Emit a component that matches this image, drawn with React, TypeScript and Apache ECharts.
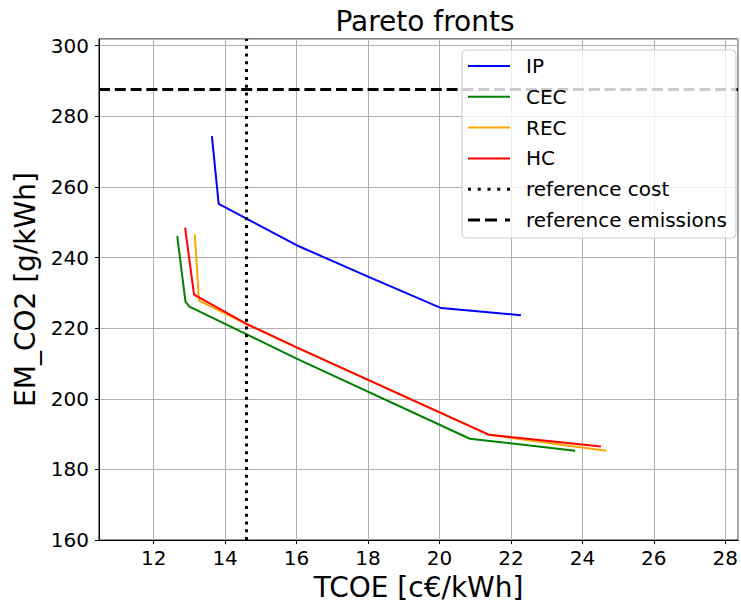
import React, { useEffect, useRef } from "react";
import * as echarts from "echarts";

// Pareto fronts: TCOE [c€/kWh] vs EM_CO2 [g/kWh]
const ipX = [13.63, 13.82, 16.0, 18.0, 20.05, 22.28];
const ipY = [274.4, 255.2, 243.5, 234.6, 225.7, 223.7];

const cecX = [12.66, 12.89, 13.0, 16.0, 20.85, 23.8];
const cecY = [246.1, 227.5, 226.1, 211.4, 188.7, 185.3];

const recX = [13.15, 13.27, 14.6, 16.0, 21.39, 24.67];
const recY = [246.6, 227.8, 221.2, 214.6, 189.8, 185.3];

const hcX = [12.88, 13.13, 14.6, 16.0, 21.39, 24.52];
const hcY = [248.5, 229.5, 221.2, 214.6, 189.8, 186.5];

const referenceCost = 14.6;
const referenceEmissions = 287.6;

const xMin = 10.47;
const xMax = 28.36;
const yMin = 160;
const yMax = 301.9;

const FONT = "DejaVu Sans";

const ICON_SOLID = "path://M0,0h42v2h-42z";
const ICON_DOTTED =
  "path://M0,0h3v3h-3z M9.75,0h3v3h-3z M19.5,0h3v3h-3z M29.25,0h3v3h-3z M39,0h3v3h-3z";
const ICON_DASHED = "path://M0,0h12v3h-12z M17,0h12v3h-12z M37,0h5v3h-5z";

function zip(xs: number[], ys: number[]) {
  return xs.map((x, i) => [x, ys[i]]);
}

export default function App() {
  const ref = useRef<HTMLDivElement>(null);
  useEffect(() => {
    if (!ref.current) return;
    const chart = echarts.init(ref.current, null, { renderer: "svg" });
    const lineSeries = (name: string, data: number[][], color: string) => ({
      name,
      type: "line",
      data,
      symbol: "none",
      lineStyle: { color, width: 2 },
      itemStyle: { color },
      z: 3,
    });
    chart.setOption({
      animation: false,
      backgroundColor: "#ffffff",
      textStyle: { fontFamily: FONT },
      title: {
        text: "Pareto fronts",
        left: 420,
        top: 2,
        textAlign: "center",
        textStyle: { fontFamily: FONT, fontSize: 28, fontWeight: "normal", color: "#000" },
      },
      grid: {
        left: 99,
        right: 1,
        top: 39,
        bottom: 64,
        show: true,
        borderColor: "#000",
        borderWidth: 1,
        backgroundColor: "transparent",
      },
      legend: {
        orient: "vertical",
        left: 462,
        top: 50,
        padding: [6, 9, 8, 6],
        itemGap: 10.8,
        itemWidth: 42,
        itemHeight: 14,
        backgroundColor: "rgba(255,255,255,0.8)",
        borderColor: "#cccccc",
        borderWidth: 1,
        borderRadius: 4,
        textStyle: { fontFamily: FONT, fontSize: 20, color: "#000", padding: [0, 0, 0, 11] },
        data: [
          { name: "IP", icon: ICON_SOLID },
          { name: "CEC", icon: ICON_SOLID },
          { name: "REC", icon: ICON_SOLID },
          { name: "HC", icon: ICON_SOLID },
          { name: "reference cost", icon: ICON_DOTTED },
          { name: "reference emissions", icon: ICON_DASHED },
        ],
      },
      xAxis: {
        type: "value",
        min: xMin,
        max: xMax,
        splitNumber: 9,
        name: "TCOE [c€/kWh]",
        nameLocation: "middle",
        nameGap: 32,
        nameTextStyle: { fontFamily: FONT, fontSize: 28, color: "#000" },
        axisLine: { show: true, onZero: false, lineStyle: { color: "#000", width: 1 } },
        axisTick: { show: true, length: 4, lineStyle: { color: "#000" } },
        axisLabel: {
          showMinLabel: false,
          showMaxLabel: false,
          margin: 8,
          fontFamily: FONT,
          fontSize: 20,
          color: "#000",
          formatter: (v: number) => (Math.abs(v / 2 - Math.round(v / 2)) < 1e-6 ? String(v) : ""),
        },
        splitLine: { show: true, lineStyle: { color: "#b0b0b0", width: 1 } },
      },
      yAxis: {
        type: "value",
        min: yMin,
        max: yMax,
        interval: 20,
        name: "EM_CO2 [g/kWh]",
        nameLocation: "middle",
        nameGap: 58,
        nameTextStyle: { fontFamily: FONT, fontSize: 28, color: "#000" },
        axisLine: { show: true, onZero: false, lineStyle: { color: "#000", width: 1 } },
        axisTick: { show: true, length: 4, lineStyle: { color: "#000" } },
        axisLabel: {
          showMaxLabel: false,
          margin: 10,
          fontFamily: FONT,
          fontSize: 20,
          color: "#000",
          formatter: (v: number) => (Math.abs(v / 20 - Math.round(v / 20)) < 1e-6 ? String(v) : ""),
        },
        splitLine: { show: true, lineStyle: { color: "#b0b0b0", width: 1 } },
      },
      series: [
        lineSeries("IP", zip(ipX, ipY), "#0000ff"),
        lineSeries("CEC", zip(cecX, cecY), "#008000"),
        lineSeries("REC", zip(recX, recY), "#ffa500"),
        lineSeries("HC", zip(hcX, hcY), "#ff0000"),
        {
          name: "reference cost",
          type: "line",
          data: [
            [referenceCost, yMin],
            [referenceCost, yMax],
          ],
          symbol: "none",
          lineStyle: { color: "#000", width: 3, type: [3, 4.8] },
          itemStyle: { color: "#000" },
          z: 3,
        },
        {
          name: "reference emissions",
          type: "line",
          data: [
            [xMin, referenceEmissions],
            [xMax, referenceEmissions],
          ],
          symbol: "none",
          lineStyle: { color: "#000", width: 3, type: [11, 4.8] },
          itemStyle: { color: "#000" },
          z: 3,
        },
      ],
    });
    return () => chart.dispose();
  }, []);
  return (
    <div
      ref={ref}
      style={{ position: "absolute", left: 0, top: 0, width: 741, height: 606 }}
    />
  );
}
